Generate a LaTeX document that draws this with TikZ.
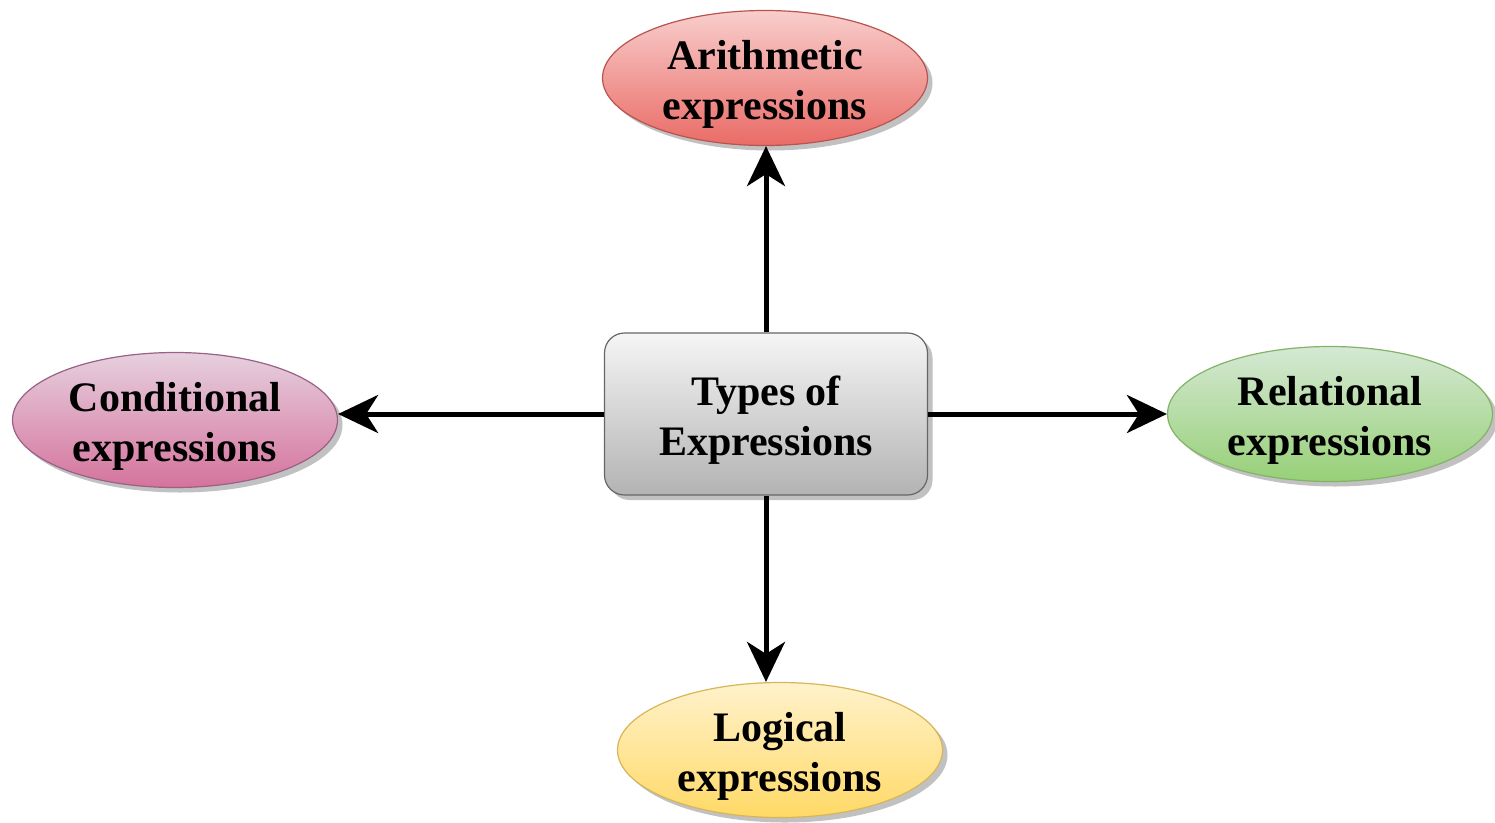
\documentclass[tikz,border=0pt]{standalone}
\usepackage{fontspec}
\setmainfont{Liberation Serif}
\usepackage{xcolor}
\definecolor{ColBlack}{RGB}{0,0,0}
\definecolor{ColRedTop}{HTML}{F8CECC}
\definecolor{ColRedBot}{HTML}{EA6B66}
\definecolor{ColRedLine}{HTML}{B85450}
\definecolor{ColPinkTop}{HTML}{E6D0DE}
\definecolor{ColPinkBot}{HTML}{D5739D}
\definecolor{ColPinkLine}{HTML}{996185}
\definecolor{ColGreenTop}{HTML}{D5E8D4}
\definecolor{ColGreenBot}{HTML}{97D077}
\definecolor{ColGreenLine}{HTML}{82B366}
\definecolor{ColYellowTop}{HTML}{FFF2CC}
\definecolor{ColYellowBot}{HTML}{FFD966}
\definecolor{ColYellowLine}{HTML}{D6B656}
\definecolor{ColGrayTop}{HTML}{F5F5F5}
\definecolor{ColGrayBot}{HTML}{B3B3B3}
\definecolor{ColGrayLine}{HTML}{666666}
\usepackage{tikz}
\usetikzlibrary{shapes.geometric}
\usetikzlibrary{shadows}
\usetikzlibrary{arrows.meta}
\newcommand{\Lift}{\rule{0pt}{42pt}}
\tikzstyle{Shadowed}=[drop shadow={shadow xshift=5pt,shadow yshift=-5pt,
    opacity=0.35,fill=black!70}]
\tikzstyle{Label}=[align=center,font=\bfseries\fontsize{42}{50}\selectfont]
\tikzstyle{Kind}=[ellipse,draw,line width=1.2pt,minimum width=325pt,
    minimum height=135pt,inner xsep=0pt,inner ysep=-6pt,Label,Shadowed]
\tikzstyle{Root}=[rectangle,rounded corners=20pt,draw=ColGrayLine,
    line width=1.2pt,top color=ColGrayTop,bottom color=ColGrayBot,
    minimum width=323pt,minimum height=162pt,inner sep=0pt,Label,Shadowed]
\tikzstyle{Map}=[ColBlack!100,draw,line width=5pt,
    -{Stealth[length=40pt,width=38pt,inset=12pt]}]

\begin{document}
\begin{tikzpicture}[x=1pt,y=-1pt]
        \useasboundingbox(0,0)rectangle(1495,822);
        \node[Root](T)at(766,414){\Lift Types of\\Expressions};
        \node[Kind,draw=ColRedLine,top color=ColRedTop,
            bottom color=ColRedBot](A)at(765,78){\Lift Arithmetic\\expressions};
        \node[Kind,draw=ColPinkLine,top color=ColPinkTop,
            bottom color=ColPinkBot](C)at(175,420){\Lift Conditional\\expressions};
        \node[Kind,draw=ColGreenLine,top color=ColGreenTop,
            bottom color=ColGreenBot](R)at(1330,414){\Lift Relational\\expressions};
        \node[Kind,draw=ColYellowLine,top color=ColYellowTop,
            bottom color=ColYellowBot](L)at(780,750){\Lift Logical\\expressions};
        \draw[Map](T.north)--(T.north|-A.south);
        \draw[Map](T.west)--(T.west-|C.east);
        \draw[Map](T.east)--(T.east-|R.west);
        \draw[Map](T.south)--(T.south|-L.north);
    \end{tikzpicture}
\end{document}
